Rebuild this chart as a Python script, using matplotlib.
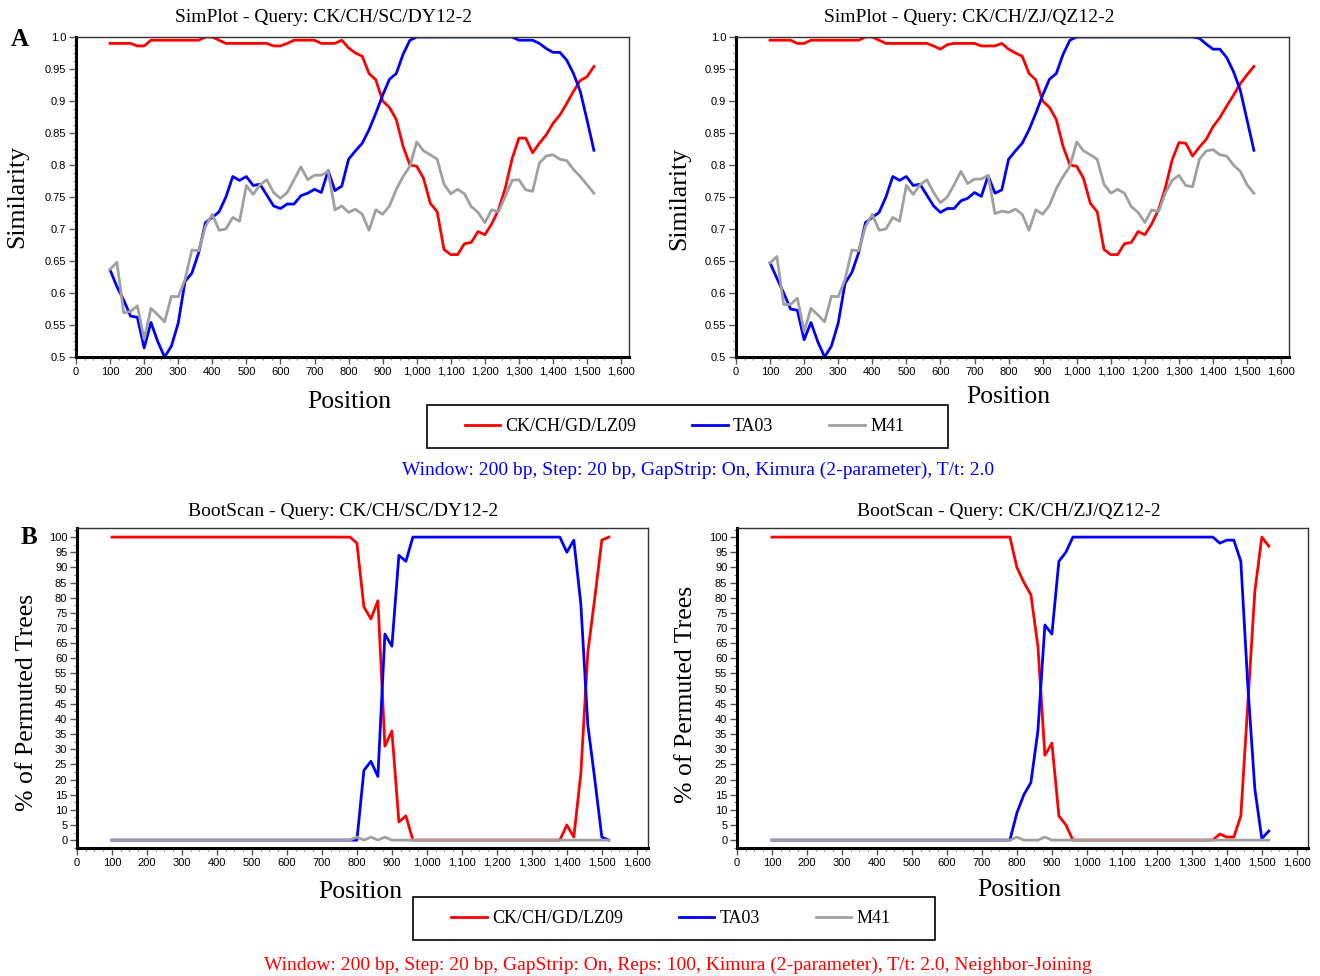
import numpy as np
import matplotlib
matplotlib.use("Agg")
import matplotlib.pyplot as plt
from matplotlib.ticker import MultipleLocator, FuncFormatter
from matplotlib.lines import Line2D
from matplotlib.patches import Rectangle

plt.rcParams['font.family'] = 'serif'
plt.rcParams['font.serif'] = ['Liberation Serif', 'DejaVu Serif']

# window centres, 200 bp window, 20 bp step
positions = np.arange(100, 1521, 20)

series_names = ["CK/CH/GD/LZ09", "TA03", "M41"]
colors = ["#ff0000", "#0000ff", "#a0a0a0"]

# SimPlot - Query: CK/CH/SC/DY12-2
sim1_red = [0.99, 0.99, 0.99, 0.99, 0.986, 0.986, 0.995, 0.995, 0.995, 0.995,
            0.995, 0.995, 0.995, 0.995, 1.0, 1.0, 0.995, 0.99, 0.99, 0.99,
            0.99, 0.99, 0.99, 0.99, 0.986, 0.986, 0.99, 0.995, 0.995, 0.995,
            0.995, 0.99, 0.99, 0.99, 0.995, 0.983, 0.975, 0.97, 0.943, 0.933,
            0.90, 0.89, 0.871, 0.829, 0.80, 0.798, 0.779, 0.74, 0.727, 0.668,
            0.66, 0.66, 0.677, 0.679, 0.696, 0.691, 0.708, 0.73, 0.764, 0.81,
            0.842, 0.842, 0.819, 0.834, 0.847, 0.865, 0.878, 0.896, 0.915, 0.932,
            0.938, 0.954]
sim1_blue = [0.636, 0.61, 0.589, 0.564, 0.562, 0.514, 0.554, 0.524, 0.50, 0.517,
             0.553, 0.618, 0.631, 0.663, 0.71, 0.718, 0.727, 0.75, 0.782, 0.776,
             0.782, 0.768, 0.77, 0.753, 0.736, 0.732, 0.739, 0.739, 0.752, 0.756,
             0.762, 0.757, 0.791, 0.76, 0.767, 0.809, 0.822, 0.834, 0.855, 0.881,
             0.909, 0.934, 0.943, 0.973, 0.995, 1.0, 1.0, 1.0, 1.0, 1.0,
             1.0, 1.0, 1.0, 1.0, 1.0, 1.0, 1.0, 1.0, 1.0, 1.0,
             0.995, 0.995, 0.995, 0.99, 0.982, 0.976, 0.976, 0.964, 0.943, 0.915,
             0.87, 0.823]
sim1_gray = [0.637, 0.648, 0.569, 0.571, 0.58, 0.528, 0.576, 0.566, 0.555, 0.595,
             0.594, 0.621, 0.667, 0.666, 0.704, 0.723, 0.698, 0.70, 0.718, 0.712,
             0.768, 0.754, 0.769, 0.777, 0.757, 0.748, 0.757, 0.777, 0.797, 0.777,
             0.784, 0.784, 0.79, 0.73, 0.736, 0.726, 0.731, 0.723, 0.698, 0.73,
             0.723, 0.736, 0.762, 0.782, 0.798, 0.836, 0.822, 0.816, 0.809, 0.77,
             0.755, 0.762, 0.755, 0.735, 0.726, 0.71, 0.73, 0.727, 0.751, 0.776,
             0.777, 0.761, 0.759, 0.803, 0.814, 0.816, 0.809, 0.807, 0.793, 0.782,
             0.769, 0.756]

# SimPlot - Query: CK/CH/ZJ/QZ12-2
sim2_red = [0.995, 0.995, 0.995, 0.995, 0.99, 0.99, 0.995, 0.995, 0.995, 0.995,
            0.995, 0.995, 0.995, 0.995, 1.0, 1.0, 0.995, 0.99, 0.99, 0.99,
            0.99, 0.99, 0.99, 0.99, 0.986, 0.981, 0.988, 0.99, 0.99, 0.99,
            0.99, 0.986, 0.986, 0.986, 0.99, 0.981, 0.975, 0.97, 0.943, 0.933,
            0.90, 0.89, 0.871, 0.829, 0.80, 0.798, 0.779, 0.74, 0.727, 0.668,
            0.66, 0.66, 0.677, 0.679, 0.696, 0.691, 0.708, 0.73, 0.764, 0.808,
            0.835, 0.834, 0.814, 0.828, 0.84, 0.86, 0.874, 0.892, 0.909, 0.927,
            0.941, 0.954]
sim2_blue = [0.647, 0.623, 0.60, 0.575, 0.573, 0.527, 0.554, 0.524, 0.50, 0.517,
             0.553, 0.615, 0.632, 0.663, 0.71, 0.718, 0.726, 0.75, 0.782, 0.776,
             0.782, 0.768, 0.77, 0.753, 0.736, 0.726, 0.732, 0.732, 0.744, 0.748,
             0.757, 0.751, 0.783, 0.756, 0.761, 0.809, 0.822, 0.834, 0.855, 0.881,
             0.909, 0.934, 0.943, 0.973, 0.995, 1.0, 1.0, 1.0, 1.0, 1.0,
             1.0, 1.0, 1.0, 1.0, 1.0, 1.0, 1.0, 1.0, 1.0, 1.0,
             1.0, 1.0, 1.0, 0.998, 0.989, 0.981, 0.981, 0.968, 0.946, 0.917,
             0.87, 0.823]
sim2_gray = [0.647, 0.657, 0.582, 0.582, 0.592, 0.54, 0.576, 0.566, 0.555, 0.595,
             0.594, 0.621, 0.667, 0.666, 0.704, 0.723, 0.698, 0.70, 0.718, 0.712,
             0.768, 0.754, 0.769, 0.777, 0.757, 0.741, 0.75, 0.769, 0.79, 0.771,
             0.778, 0.778, 0.784, 0.724, 0.728, 0.726, 0.731, 0.723, 0.698, 0.73,
             0.723, 0.737, 0.763, 0.782, 0.798, 0.836, 0.822, 0.816, 0.809, 0.77,
             0.756, 0.762, 0.756, 0.735, 0.726, 0.71, 0.73, 0.727, 0.756, 0.776,
             0.784, 0.768, 0.766, 0.809, 0.822, 0.824, 0.816, 0.814, 0.80, 0.79,
             0.769, 0.756]

# BootScan - Query: CK/CH/SC/DY12-2
boot1_red = ([100] * 35 + [98, 77, 73, 79, 31, 36, 6, 8] + [0] * 22
             + [5, 1, 22, 62, 80, 99, 100])
boot1_blue = ([0] * 36 + [23, 26, 21, 68, 64, 94, 92] + [100] * 22
              + [95, 99, 78, 38, 20, 1, 0])
boot1_gray = [0] * 35 + [1, 0, 1, 0, 1] + [0] * 32

# BootScan - Query: CK/CH/ZJ/QZ12-2
boot2_red = ([100] * 35 + [90, 85, 81, 64, 28, 32, 8, 5] + [0] * 21
             + [2, 1, 1, 8, 45, 82, 100, 97])
boot2_blue = ([0] * 35 + [9, 15, 19, 36, 71, 68, 92, 95] + [100] * 21
              + [98, 99, 99, 92, 51, 17, 0.5, 3])
boot2_gray = [0] * 35 + [1, 0, 0, 0, 1] + [0] * 32

W, H = 1320, 976
fig = plt.figure(figsize=(W / 100, H / 100), dpi=100)


def fx(px):
    return px / W


def fy(py):
    return 1 - py / H


TICKFONT = ['Liberation Sans Narrow', 'Liberation Sans', 'DejaVu Sans']


def sim_fmt(v, _):
    s = f"{v:.2f}".rstrip('0')
    if s.endswith('.'):
        s += '0'
    return s


def style_axes(ax):
    for side in ['left', 'bottom']:
        ax.spines[side].set_linewidth(2.2)
    for side in ['top', 'right']:
        ax.spines[side].set_linewidth(1.0)
        ax.spines[side].set_color('#333333')
    ax.xaxis.set_major_locator(MultipleLocator(100))
    ax.xaxis.set_minor_locator(MultipleLocator(25))
    ax.xaxis.set_major_formatter(FuncFormatter(lambda v, _: f"{int(v):,}"))
    ax.tick_params(which='major', direction='out', length=5, width=1,
                   color='#555555', labelsize=8, pad=2,
                   labelfontfamily=TICKFONT)
    ax.tick_params(which='minor', direction='out', length=2.5, width=0.8,
                   color='#777777')


def draw(ax, red, blue, gray):
    ax.plot(positions, red, color=colors[0], lw=2)
    ax.plot(positions, blue, color=colors[1], lw=2)
    ax.plot(positions, gray, color=colors[2], lw=2)


# panel A
for left, red, blue, gray in [(76, sim1_red, sim1_blue, sim1_gray),
                              (736, sim2_red, sim2_blue, sim2_gray)]:
    ax = fig.add_axes([fx(left), fy(357), 553 / W, 320 / H])
    draw(ax, red, blue, gray)
    ax.set_xlim(0, 1623)
    ax.set_ylim(0.5, 1.0)
    style_axes(ax)
    ax.yaxis.set_major_locator(MultipleLocator(0.05))
    ax.yaxis.set_minor_locator(MultipleLocator(0.0125))
    ax.yaxis.set_major_formatter(FuncFormatter(sim_fmt))

# panel B
for left, red, blue, gray in [(77, boot1_red, boot1_blue, boot1_gray),
                              (737, boot2_red, boot2_blue, boot2_gray)]:
    ax = fig.add_axes([fx(left), fy(848), 571 / W, 320 / H])
    draw(ax, red, blue, gray)
    ax.set_xlim(0, 1632)
    ax.set_ylim(-2.6, 103)
    style_axes(ax)
    ax.yaxis.set_major_locator(MultipleLocator(5))
    ax.yaxis.set_minor_locator(MultipleLocator(2.5))
    ax.yaxis.set_major_formatter(FuncFormatter(lambda v, _: f"{int(round(v))}"))

# titles and labels
TITLE = 14
fig.text(fx(324), fy(18), "SimPlot - Query: CK/CH/SC/DY12-2", fontsize=TITLE,
         ha='center', va='center')
fig.text(fx(969), fy(18), "SimPlot - Query: CK/CH/ZJ/QZ12-2", fontsize=TITLE,
         ha='center', va='center')
fig.text(fx(343), fy(511), "BootScan - Query: CK/CH/SC/DY12-2", fontsize=TITLE,
         ha='center', va='center')
fig.text(fx(1009), fy(511), "BootScan - Query: CK/CH/ZJ/QZ12-2", fontsize=TITLE,
         ha='center', va='center')

fig.text(fx(20), fy(40), "A", fontsize=18, fontweight='bold', ha='center', va='center')
fig.text(fx(29), fy(538), "B", fontsize=18, fontweight='bold', ha='center', va='center')

LAB = 18.5
fig.text(fx(17), fy(197), "Similarity", fontsize=LAB, rotation=90, ha='center', va='center')
fig.text(fx(679), fy(198), "Similarity", fontsize=LAB, rotation=90, ha='center', va='center')
fig.text(fx(27), fy(702), "% of Permuted Trees", fontsize=LAB, rotation=90,
         ha='center', va='center')
fig.text(fx(686), fy(694), "% of Permuted Trees", fontsize=LAB, rotation=90,
         ha='center', va='center')

fig.text(fx(349), fy(402), "Position", fontsize=LAB, ha='center', va='center')
fig.text(fx(1008), fy(397), "Position", fontsize=LAB, ha='center', va='center')
fig.text(fx(360), fy(892), "Position", fontsize=LAB, ha='center', va='center')
fig.text(fx(1019), fy(890), "Position", fontsize=LAB, ha='center', va='center')

# legends (frame drawn separately to match the wide box)
handles = [Line2D([], [], color=c, lw=2) for c in colors]
for x0, x1, y0, y1 in [(427, 948, 405, 448), (413, 935, 897, 940)]:
    fig.patches.append(Rectangle((fx(x0), fy(y1)), (x1 - x0) / W, (y1 - y0) / H,
                                 transform=fig.transFigure, fill=False,
                                 edgecolor='black', lw=1.2))
    fig.legend(handles, series_names, ncol=3, loc='center',
               bbox_to_anchor=(fx((x0 + x1) / 2 - 3), fy((y0 + y1) / 2)),
               frameon=False, handlelength=1.95, handletextpad=0.3,
               columnspacing=3.1, fontsize=13)

TEXT = 14
fig.text(fx(698), fy(470),
         "Window: 200 bp, Step: 20 bp, GapStrip: On, Kimura (2-parameter), T/t: 2.0",
         fontsize=TEXT, color='#0000ff', ha='center', va='center')
fig.text(fx(678), fy(965),
         "Window: 200 bp, Step: 20 bp, GapStrip: On, Reps: 100, Kimura (2-parameter), "
         "T/t: 2.0, Neighbor-Joining",
         fontsize=TEXT, color='#ff0000', ha='center', va='center')

fig.savefig("out.png", dpi=100)
